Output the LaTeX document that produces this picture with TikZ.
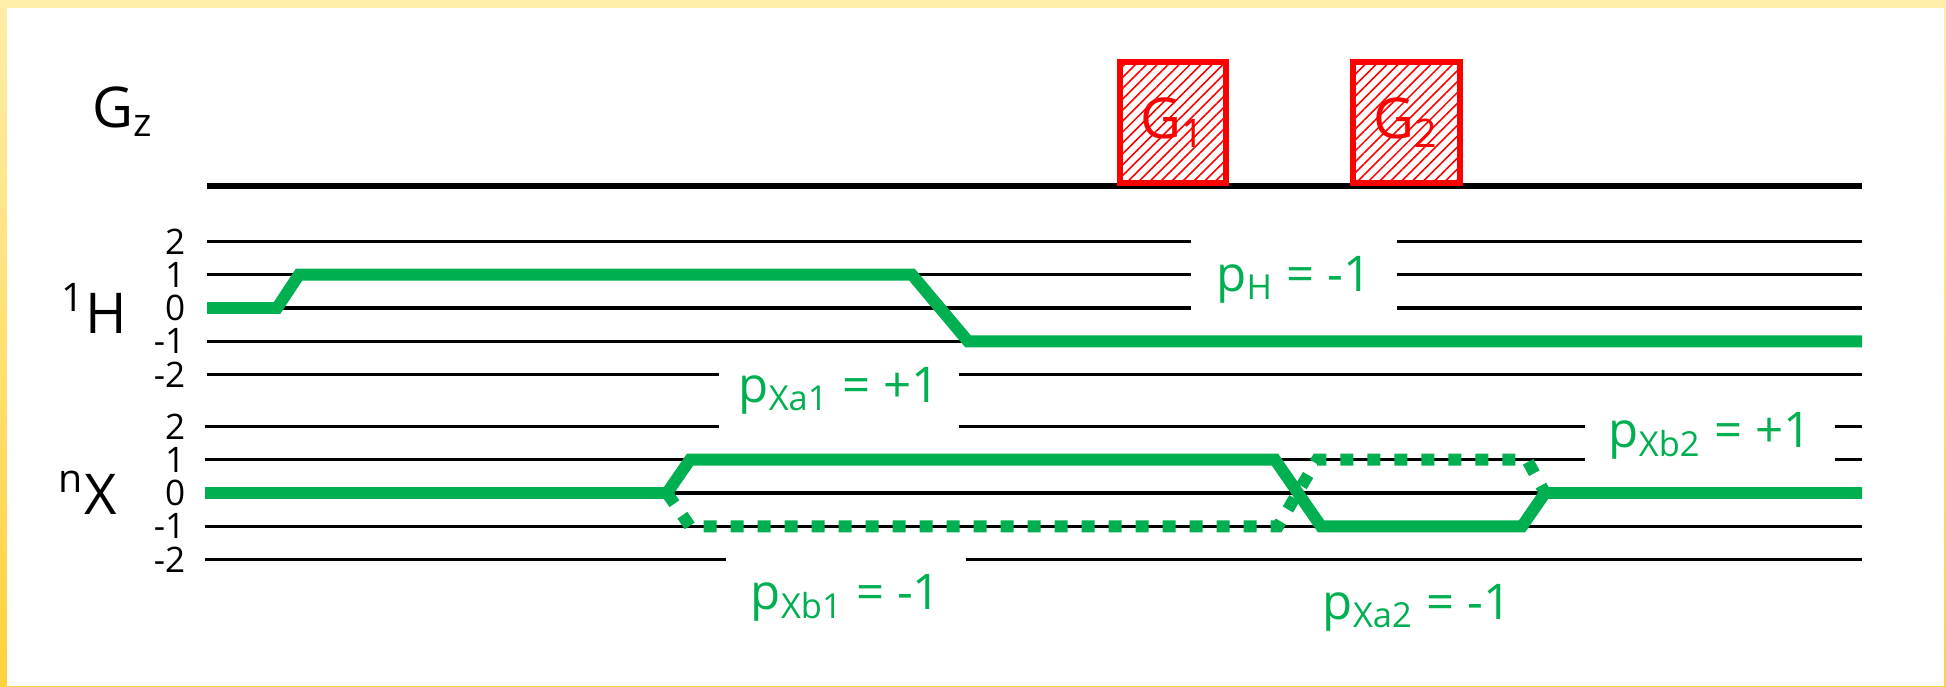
\documentclass[tikz,border=0pt]{standalone}
\usepackage{fontspec}
\setmainfont{Open Sans}
\usetikzlibrary{patterns.meta}

\definecolor{cohgreen}{HTML}{00B050}
\definecolor{rimtop}{HTML}{FFEEA9}
\definecolor{rimbot}{HTML}{FFD23A}

\tikzset{
  level/.style={line width=0.9pt},
  trace/.style={cohgreen,line width=3.4pt},
  dashtrace/.style={trace,dash pattern=on 0.13cm off 0.14cm},
  lbl/.style={text=cohgreen,font=\fontsize{14}{16}\selectfont,fill=white,inner sep=0pt},
  levnum/.style={anchor=east,inner sep=0pt,font=\fontsize{10}{12}\selectfont},
  chan/.style={font=\fontsize{16}{18}\selectfont},
  gradbox/.style={draw=red,line width=1.7pt,text=red,
    pattern={Lines[angle=45,distance=2.2pt,line width=0.45pt]},pattern color=red,
    minimum height=1.21cm,font=\fontsize{16}{18}\selectfont},
}

\begin{document}
\begin{tikzpicture}
  % yellow rim of the slide
  \shade[top color=rimtop,bottom color=rimbot] (0,0) rectangle (19.46,6.86);
  \fill[white] (0.07,0) rectangle (19.44,6.78);
  \useasboundingbox (0,0) rectangle (19.46,6.86);

  % gradient channel
  \node[chan] (gz) at (1.23,5.74) {G\textsubscript{z}};
  \draw[line width=1.7pt] (2.07,5) -- (18.62,5);
  \node[gradbox,minimum width=1.06cm] (g1) at (11.73,5.635) {G\textsubscript{1}};
  \node[gradbox,minimum width=1.07cm] (g2) at (14.065,5.635) {G\textsubscript{2}};

  % proton coherence levels
  \begin{scope}[yshift=3.78cm,y=0.333cm]
    \foreach \l in {-2,...,2} {
      \draw[level] (2.07,\l) -- (18.62,\l);
      \node[levnum] (hl\l) at (1.86,\l) {\l};
    }
    \node[chan] (hname) at (0.94,0) {\textsuperscript{1}H};
    \draw[trace] (2.07,0) -- (2.77,0) -- (2.99,1) -- (9.12,1)
      -- (9.68,-1) -- (18.62,-1);
  \end{scope}

  % heteronucleus coherence levels
  \begin{scope}[yshift=1.93cm,y=0.333cm]
    \foreach \l in {-2,...,2} {
      \draw[level] (2.05,\l) -- (18.62,\l);
      \node[levnum] (xl\l) at (1.86,\l) {\l};
    }
    \node[chan] (xname) at (0.88,0) {\textsuperscript{n}X};
    \draw[dashtrace] (6.67,0) -- (6.90,-1) -- (12.78,-1) -- (13.17,1)
      -- (15.27,1) -- (15.45,0);
    \draw[trace] (2.05,0) -- (6.67,0) -- (6.90,1) -- (12.75,1)
      -- (13.21,-1) -- (15.22,-1) -- (15.45,0) -- (18.62,0);
  \end{scope}

  % pathway labels
  \node[lbl,minimum width=2.06cm,minimum height=1.0cm] (ph) at (12.94,4.06) {p\textsubscript{H} = -1};
  \node[lbl,minimum width=2.40cm,minimum height=0.85cm] (pxa1) at (8.39,2.95) {p\textsubscript{Xa1} = +1};
  \node[lbl,minimum width=2.40cm,minimum height=1.0cm] (pxb1) at (8.46,0.88) {p\textsubscript{Xb1} = -1};
  \node[lbl,minimum width=2.50cm,minimum height=0.85cm] (pxb2) at (17.10,2.50) {p\textsubscript{Xb2} = +1};
  \node[lbl] (pxa2) at (14.17,0.78) {p\textsubscript{Xa2} = -1};
\end{tikzpicture}
\end{document}
